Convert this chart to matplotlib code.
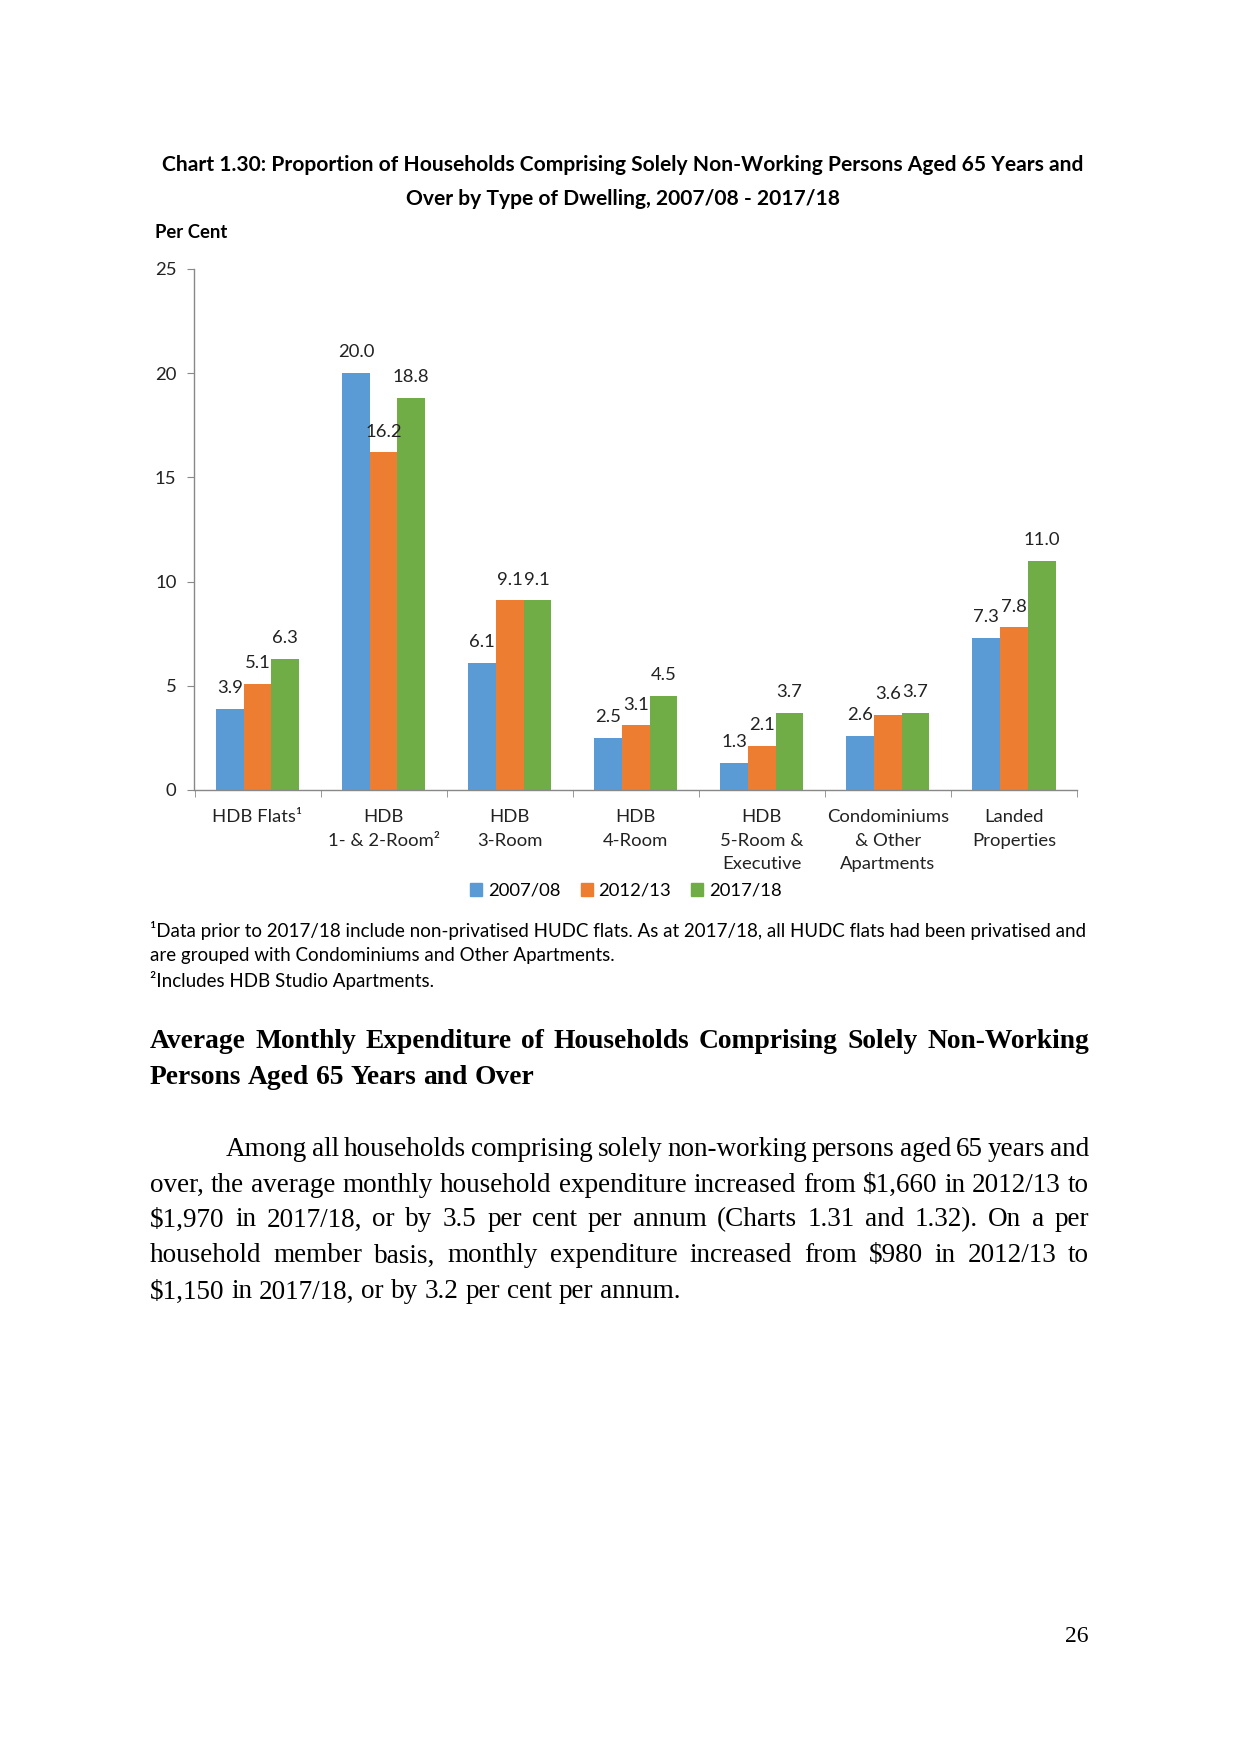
import matplotlib
matplotlib.use('Agg')
import matplotlib.pyplot as plt
import matplotlib.patches as mpatches
import numpy as np

# chart data
categories = ['HDB Flats\u00b9', 'HDB\n1- & 2-Room\u00b2', 'HDB\n3-Room', 'HDB\n4-Room',
              'HDB\n5-Room &\nExecutive', 'Condominiums\n& Other\nApartments', 'Landed\nProperties']
years = ['2007/08', '2012/13', '2017/18']
v_0708 = [3.9, 20.0, 6.1, 2.5, 1.3, 2.6, 7.3]
v_1213 = [5.1, 16.2, 9.1, 3.1, 2.1, 3.6, 7.8]
v_1718 = [6.3, 18.8, 9.1, 4.5, 3.7, 3.7, 11.0]
yticks = [0, 5, 10, 15, 20, 25]

title_lines = ['Chart 1.30: Proportion of Households Comprising Solely Non-Working Persons Aged 65 Years and',
               'Over by Type of Dwelling, 2007/08 - 2017/18']
footnotes = ['\u00b9Data prior to 2017/18 include non-privatised HUDC flats. As at 2017/18, all HUDC flats had been privatised and',
             'are grouped with Condominiums and Other Apartments.',
             '\u00b2Includes HDB Studio Apartments.']
heading = ['Average Monthly Expenditure of Households Comprising Solely Non-Working',
           'Persons Aged 65 Years and Over']
paragraph = ['Among all households comprising solely non-working persons aged 65 years and',
             'over, the average monthly household expenditure increased from $1,660 in 2012/13 to',
             '$1,970 in 2017/18, or by 3.5 per cent per annum (Charts 1.31 and 1.32). On a per',
             'household member basis, monthly expenditure increased from $980 in 2012/13 to',
             '$1,150 in 2017/18, or by 3.2 per cent per annum.']

colors = ['#5B9BD5', '#ED7D31', '#70AD47']
SANS = 'Lato'
SERIF = 'Liberation Serif'
FS = 13.3

W, H = 1241, 1754
fig = plt.figure(figsize=(W / 100, H / 100), dpi=100)

def fx(px):
    return px / W

def fy(py):
    return 1 - py / H

# axes
ax = fig.add_axes([fx(194.5), fy(790), (1077 - 194.5) / W, (790 - 269) / H])
x = np.arange(len(categories))
bw = 0.22
for k, vals in enumerate([v_0708, v_1213, v_1718]):
    xs = x + (k - 1) * bw
    ax.bar(xs, vals, bw, color=colors[k], label=years[k], zorder=2)
    for xi, v in zip(xs, vals):
        ax.annotate('%.1f' % v, (xi, v), xytext=(0, 15), textcoords='offset points',
                    ha='center', va='center', fontsize=FS, family=SANS, color='#222222')

ax.set_xlim(-0.5, len(categories) - 0.5)
ax.set_ylim(0, 25)
ax.set_yticks(yticks)
ax.set_yticklabels([str(t) for t in yticks], fontsize=FS, family=SANS, color='#222222')
ax.set_xticks(x)
ax.set_xticklabels(categories, fontsize=FS, family=SANS, color='#222222', linespacing=1.57)
ax.set_xticks(np.arange(-0.5, len(categories)), minor=True)
ax.tick_params(axis='x', which='major', length=0, pad=14)
ax.tick_params(axis='x', which='minor', length=5, color='#888888', direction='out')
ax.tick_params(axis='y', length=5, color='#888888', direction='out', pad=8)
for s in ['top', 'right']:
    ax.spines[s].set_visible(False)
for s in ['left', 'bottom']:
    ax.spines[s].set_color('#888888')
    ax.spines[s].set_linewidth(1)

handles = [mpatches.Patch(color=c, label=y) for c, y in zip(colors, years)]
fig.legend(handles=handles, loc='center', bbox_to_anchor=(fx(626), fy(891)), ncol=3,
           frameon=False, handlelength=0.65, handleheight=0.65, handletextpad=0.3,
           columnspacing=1.1, prop={'family': SANS, 'size': FS})

# titles
for line, y in zip(title_lines, [165, 199]):
    fig.text(fx(623), fy(y), line, ha='center', va='center', fontsize=15.1,
             fontweight='bold', family=SANS)
fig.text(fx(155), fy(232), 'Per Cent', ha='left', va='center', fontsize=FS,
         fontweight='bold', family=SANS)

for line, y in zip(footnotes, [930, 956, 980]):
    fig.text(fx(150), fy(y), line, ha='left', va='center', fontsize=13.5, family=SANS)

renderer = fig.canvas.get_renderer()

def justify(lines, ys, x0, x1, size, weight='normal', indent=0):
    space = 0.25 * size * 100 / 72
    for i, (line, y) in enumerate(zip(lines, ys)):
        words = line.split(' ')
        start = x0 + (indent if i == 0 else 0)
        texts = [fig.text(0, fy(y), w, ha='left', va='center', fontsize=size,
                          fontweight=weight, family=SERIF, parse_math=False) for w in words]
        widths = [t.get_window_extent(renderer).width for t in texts]
        if i == len(lines) - 1:
            gap = space
        else:
            gap = (x1 - start - sum(widths)) / (len(words) - 1)
        pos = start
        for t, w in zip(texts, widths):
            t.set_x(fx(pos))
            pos += w + gap

justify(heading, [1042, 1077], 150, 1089, 19.8, weight='bold')
justify(paragraph, [1149, 1185, 1220, 1256, 1292], 150, 1089, 19.5, indent=76)

fig.text(fx(1089), fy(1637), '26', ha='right', va='center', fontsize=17, family=SERIF)

fig.savefig('out.png', dpi=100)
